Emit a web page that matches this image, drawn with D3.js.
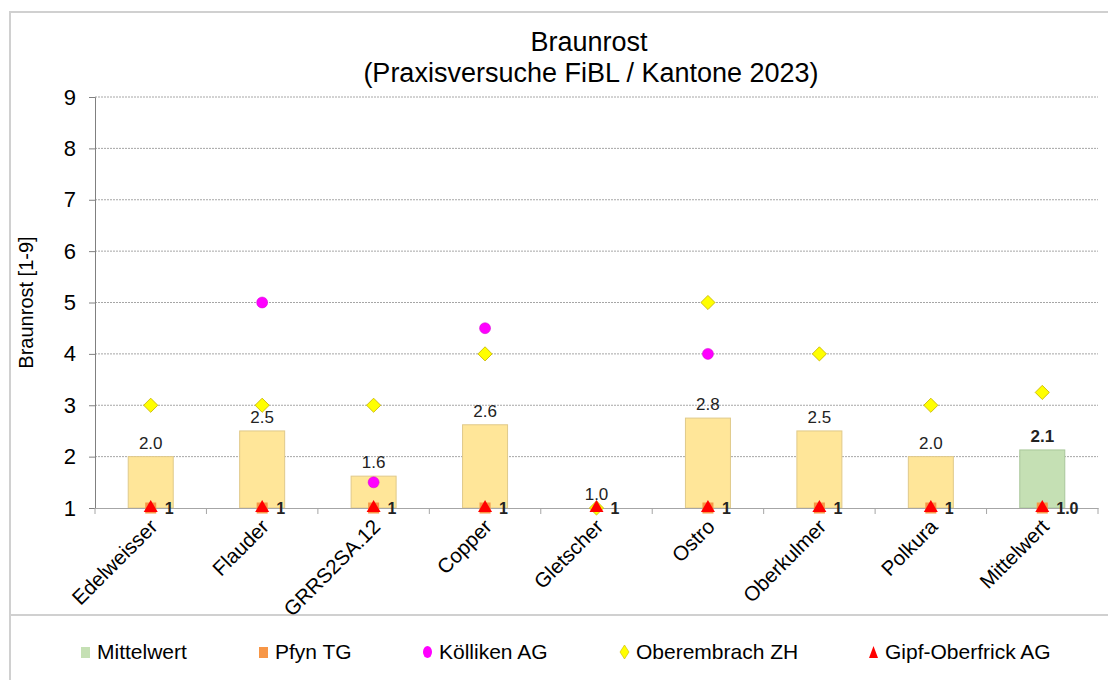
<!DOCTYPE html>
<html>
<head>
<meta charset="utf-8">
<script src="https://cdn.jsdelivr.net/npm/d3@7"></script>
<style>
  body { margin: 0; background: #fff; }
  svg { font-family: "Liberation Sans", Arial, sans-serif; }
</style>
</head>
<body>
<div id="chart"></div>
<script>
const sorten = ["Edelweisser", "Flauder", "GRRS2SA.12", "Copper", "Gletscher", "Ostro", "Oberkulmer", "Polkura", "Mittelwert"]
const mittel = [2.0, 2.5, 1.62, 2.62, 1.0, 2.75, 2.5, 2.0, 2.13]
const mittelLabels = ["2.0", "2.5", "1.6", "2.6", "1.0", "2.8", "2.5", "2.0", "2.1"]
const pfyn = [1, 1, 1, 1, null, 1, 1, 1, 1]
const koelliken = [null, 5, 1.5, 4.5, null, 4, null, null, null]
const oberembrach = [3, 3, 3, 4, 1, 5, 4, 3, 3.25]
const gipf = [1, 1, 1, 1, 1, 1, 1, 1, 1]
const gipfLabels = ["1", "1", "1", "1", "1", "1", "1", "1", "1.0"]
const yTicks = [1, 2, 3, 4, 5, 6, 7, 8, 9]

const width = 1108
const height = 680
const margin = { top: 97, right: 10, bottom: 172, left: 95 }

const svg = d3.select("#chart")
  .append("svg")
  .attr("width", width)
  .attr("height", height)

// outer frame
svg.append("rect")
  .attr("x", 10).attr("y", 12)
  .attr("width", width).attr("height", height)
  .attr("fill", "none")
  .attr("stroke", "#d0d0d0")
  .attr("stroke-width", 2)

svg.append("line")
  .attr("x1", 10).attr("x2", width)
  .attr("y1", 615).attr("y2", 615)
  .attr("stroke", "#d0d0d0")
  .attr("stroke-width", 2)

const xStep = d3.scaleBand()
  .domain(sorten)
  .range([margin.left, width - margin.right])

const y = d3.scaleLinear()
  .domain([1, 9])
  .range([height - margin.bottom, margin.top])

const cx = d => xStep(d) + xStep.bandwidth() / 2

// gridlines
svg.append("g")
  .selectAll("line")
  .data(yTicks.slice(1))
  .join("line")
  .attr("x1", margin.left)
  .attr("x2", width - margin.right)
  .attr("y1", d => y(d))
  .attr("y2", d => y(d))
  .attr("stroke", "#a6a6a6")
  .attr("stroke-dasharray", "2,1")

// y axis
const yAxis = svg.append("g")
  .attr("transform", `translate(${margin.left},0)`)
  .call(d3.axisLeft(y).tickValues(yTicks).tickFormat(d3.format("d")).tickSize(6).tickPadding(13))
yAxis.select(".domain").attr("stroke", "#808080")
yAxis.selectAll(".tick line").attr("stroke", "#808080")
yAxis.selectAll("text").attr("font-size", 22).attr("fill", "#000")

// bars
svg.append("g")
  .selectAll("rect")
  .data(sorten)
  .join("rect")
  .attr("x", d => cx(d) - 22.5)
  .attr("width", 45)
  .attr("y", (d, i) => y(mittel[i]))
  .attr("height", (d, i) => y(1) - y(mittel[i]))
  .attr("fill", d => d === "Mittelwert" ? "#c5e0b4" : "#ffe699")
  .attr("stroke", d => d === "Mittelwert" ? "#a9c79a" : "#e0c98a")

// bar labels
svg.append("g")
  .selectAll("text")
  .data(sorten)
  .join("text")
  .attr("x", cx)
  .attr("y", (d, i) => y(mittel[i]) - 8)
  .attr("text-anchor", "middle")
  .attr("font-size", 17)
  .attr("font-weight", d => d === "Mittelwert" ? "bold" : "normal")
  .attr("fill", "#222")
  .text((d, i) => mittelLabels[i])

// x axis
const xAxis = svg.append("g")
  .attr("transform", `translate(0,${y(1)})`)
  .call(d3.axisBottom(xStep).tickSize(0).tickFormat(""))
xAxis.select(".domain").attr("stroke", "#a6a6a6")
xAxis.selectAll(".tick").remove()
xAxis.selectAll(".sep")
  .data(sorten.concat(["end"]))
  .join("line")
  .attr("class", "sep")
  .attr("x1", (d, i) => margin.left + i * xStep.step())
  .attr("x2", (d, i) => margin.left + i * xStep.step())
  .attr("y1", 0).attr("y2", 6)
  .attr("stroke", "#a6a6a6")

svg.append("g")
  .selectAll("text")
  .data(sorten)
  .join("text")
  .attr("transform", d => `translate(${cx(d) + 8},${y(1) + 20}) rotate(-45)`)
  .attr("text-anchor", "end")
  .attr("font-size", 20.5)
  .attr("fill", "#000")
  .text(d => d)

// Pfyn TG squares
svg.append("g")
  .selectAll("rect")
  .data(sorten.filter((d, i) => pfyn[i] != null))
  .join("rect")
  .attr("x", d => cx(d) - 5.5)
  .attr("y", d => y(pfyn[sorten.indexOf(d)]) - 5.5)
  .attr("width", 11).attr("height", 11)
  .attr("fill", "#f79646")

// Kölliken circles
svg.append("g")
  .selectAll("circle")
  .data(sorten.filter((d, i) => koelliken[i] != null))
  .join("circle")
  .attr("cx", cx)
  .attr("cy", d => y(koelliken[sorten.indexOf(d)]))
  .attr("r", 5.5)
  .attr("fill", "#ff00ff")
  .attr("stroke", "#d000d0")
  .attr("stroke-width", 0.5)

// Oberembrach diamonds
svg.append("g")
  .selectAll("path")
  .data(sorten)
  .join("path")
  .attr("transform", (d, i) => `translate(${cx(d)},${y(oberembrach[i])}) rotate(45)`)
  .attr("d", d3.symbol(d3.symbolSquare, 100))
  .attr("fill", "#ffff00")
  .attr("stroke", "#c8b400")
  .attr("stroke-width", 0.8)

// Gipf-Oberfrick triangles
svg.append("g")
  .selectAll("path")
  .data(sorten)
  .join("path")
  .attr("transform", (d, i) => `translate(${cx(d)},${y(gipf[i])})`)
  .attr("d", d3.symbol(d3.symbolTriangle, 85))
  .attr("fill", "#ff0000")

svg.append("g")
  .selectAll("text")
  .data(sorten)
  .join("text")
  .attr("x", d => cx(d) + 14)
  .attr("y", (d, i) => y(gipf[i]) + 6)
  .attr("font-size", 16)
  .attr("font-weight", "bold")
  .attr("fill", "#222")
  .text((d, i) => gipfLabels[i])

// titles
svg.append("text")
  .attr("x", 589).attr("y", 51)
  .attr("text-anchor", "middle")
  .attr("font-size", 27)
  .text("Braunrost")
svg.append("text")
  .attr("x", 591).attr("y", 82)
  .attr("text-anchor", "middle")
  .attr("font-size", 27)
  .text("(Praxisversuche FiBL / Kantone 2023)")

svg.append("text")
  .attr("transform", `translate(33,${(margin.top + y(1)) / 2}) rotate(-90)`)
  .attr("text-anchor", "middle")
  .attr("font-size", 20)
  .text("Braunrost [1-9]")

// legend
const legendItems = [
  { name: "Mittelwert", x: 81, type: "rect", color: "#c5e0b4" },
  { name: "Pfyn TG", x: 259, type: "rect", color: "#f79646" },
  { name: "Kölliken AG", x: 423, type: "circle", color: "#ff00ff" },
  { name: "Oberembrach ZH", x: 620, type: "diamond", color: "#ffff00" },
  { name: "Gipf-Oberfrick AG", x: 869, type: "triangle", color: "#ff0000" }
]
const legend = svg.append("g")
  .selectAll("g")
  .data(legendItems)
  .join("g")
  .attr("transform", d => `translate(${d.x},652)`)

legend.filter(d => d.type === "rect").append("rect")
  .attr("x", 0).attr("y", -5).attr("width", 9).attr("height", 11)
  .attr("fill", d => d.color)
legend.filter(d => d.type === "circle").append("ellipse")
  .attr("cx", 4.5).attr("cy", 0).attr("rx", 4.5).attr("ry", 6)
  .attr("fill", d => d.color)
legend.filter(d => d.type === "diamond").append("path")
  .attr("d", "M4.5,-7L9,0L4.5,7L0,0Z")
  .attr("fill", d => d.color)
  .attr("stroke", "#c8b400")
  .attr("stroke-width", 0.6)
legend.filter(d => d.type === "triangle").append("path")
  .attr("d", "M4.5,-6L9,6L0,6Z")
  .attr("fill", d => d.color)
legend.append("text")
  .attr("x", 16).attr("y", 7)
  .attr("font-size", 21)
  .text(d => d.name)
</script>
</body>
</html>
